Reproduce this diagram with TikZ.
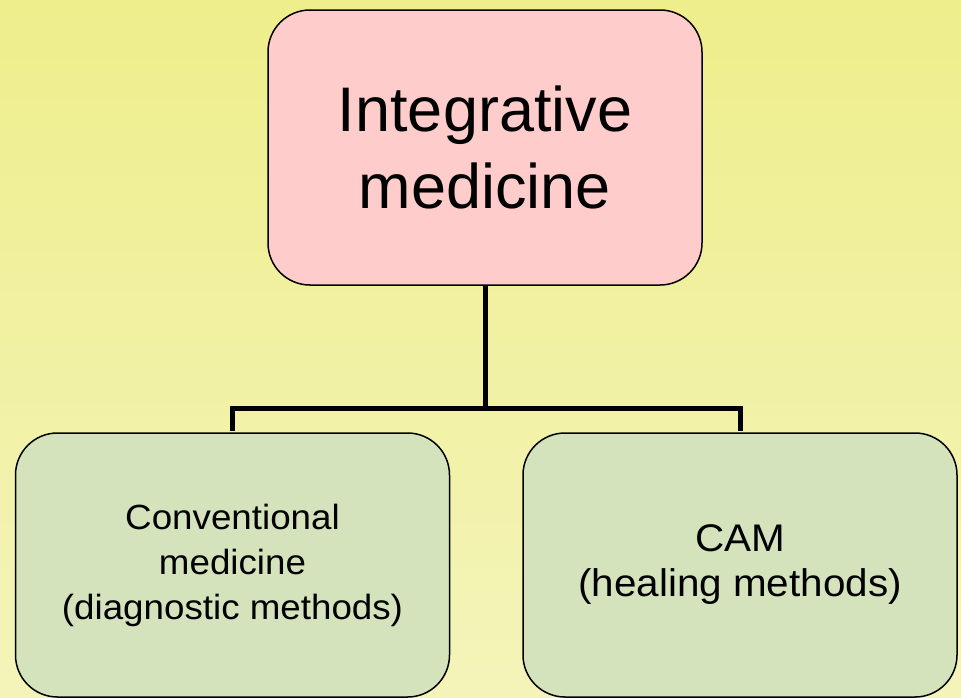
\documentclass[tikz,border=0pt]{standalone}
\usepackage{fontspec}
\setmainfont{Liberation Sans}
\newfontfamily\widesans[FakeStretch=1.05]{Liberation Sans}
\usetikzlibrary{positioning}
\definecolor{bgtop}{HTML}{EEEE8C}
\definecolor{bgbottom}{HTML}{F4F4BA}
\definecolor{rootfill}{HTML}{FFCCCC}
\definecolor{leaffill}{HTML}{D5E3BD}
\tikzset{
  box/.style={draw=black, line width=1.5pt, rounded corners=42pt,
    minimum width=434pt, inner sep=0pt, align=center},
  rootbox/.style={box, fill=rootfill, minimum height=275pt,
    font=\fontsize{63}{77}\selectfont},
  leafbox/.style={box, fill=leaffill, minimum height=264pt},
  link/.style={line width=5pt},
}
\begin{document}
\begin{tikzpicture}[x=1pt, y=-1pt]
  % background
  \useasboundingbox (0,0) rectangle (961,697);
  \shade[top color=bgtop, bottom color=bgbottom] (0,0) rectangle (961,697);
  \node[rootbox] (integ) at (485,147.5) {Integrative\\medicine};
  \node[leafbox, font=\widesans\fontsize{35}{45}\selectfont] (conv) at (232.5,565)
    {Conventional\\medicine\\(diagnostic methods)};
  \node[leafbox, right=72pt of conv, font=\widesans\fontsize{38.5}{45}\selectfont] (cam)
    {CAM\\(healing methods)};
  % connectors
  \draw[link] (integ.south) -- ++(0,123) coordinate (bar);
  \draw[link] (bar) -| ([yshift=1pt]conv.north);
  \draw[link] (bar) -| ([yshift=1pt]cam.north);
\end{tikzpicture}
\end{document}
